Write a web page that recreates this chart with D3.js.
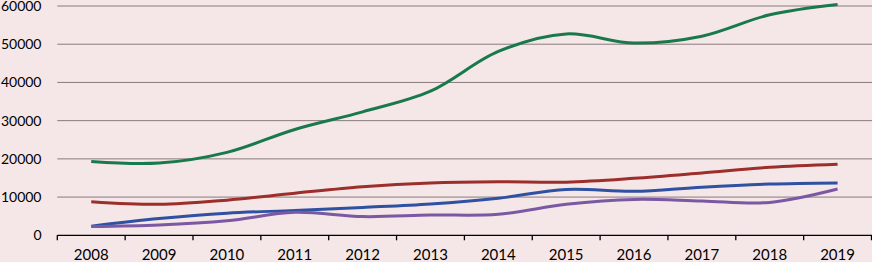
<!DOCTYPE html>
<html>
<head>
<meta charset="utf-8">
<script src="https://cdn.jsdelivr.net/npm/d3@7"></script>
<style>
  html, body { margin: 0; padding: 0; background: #f5e6e7; }
  svg { display: block; }
  text { font-family: Lato, "Open Sans", sans-serif; fill: #000; }
</style>
</head>
<body>
<div id="chart"></div>
<script>
// values
let years = ["2008", "2009", "2010", "2011", "2012", "2013",
             "2014", "2015", "2016", "2017", "2018", "2019"];
let greenValues  = [19300, 18900, 21700, 27700, 32300, 37700, 48100, 52700, 50300, 52100, 57700, 60400];
let redValues    = [8800, 8100, 9200, 11000, 12700, 13700, 14000, 13900, 14900, 16300, 17800, 18600];
let blueValues   = [2400, 4400, 5800, 6500, 7300, 8200, 9700, 12000, 11500, 12600, 13400, 13700];
let purpleValues = [2300, 2700, 3800, 6000, 4900, 5300, 5500, 8100, 9400, 9000, 8600, 12100];
let yTicks = [0, 10000, 20000, 30000, 40000, 50000, 60000];

let seriesList = [
  { values: greenValues,  color: "#18794a" },
  { values: redValues,    color: "#9c2f2b" },
  { values: blueValues,   color: "#2f51a1" },
  { values: purpleValues, color: "#7a58a4" }
];

let width = 872;
let height = 262;
let plotLeft = 57.3, plotRight = 871.5, plotTop = 6, plotBottom = 235.3;

let svg = d3.select("#chart")
  .append("svg")
  .attr("width", width).attr("height", height);

let xScale = d3.scaleBand()
  .domain(years)
  .range([plotLeft, plotRight]);

let yScale = d3.scaleLinear()
  .domain([0, 60000])
  .range([plotBottom, plotTop]);

// horizontal gridlines
svg.append("g")
  .selectAll("line")
  .data(yTicks.filter(function(t) { return t > 0; }))
  .enter()
  .append("line")
  .attr("x1", plotLeft).attr("x2", width)
  .attr("y1", function(d) { return yScale(d); })
  .attr("y2", function(d) { return yScale(d); })
  .attr("stroke", "#887b7c")
  .attr("stroke-width", 1);

// y labels
svg.append("g")
  .selectAll("text")
  .data(yTicks)
  .enter()
  .append("text")
  .attr("x", 41.5)
  .attr("y", function(d) { return yScale(d); })
  .attr("dy", "0.35em")
  .attr("text-anchor", "end")
  .style("font-size", "14px")
  .text(function(d) { return d; });

// x axis line and ticks
let xAxis = d3.axisBottom(xScale).tickSize(0);
let xg = svg.append("g")
  .attr("transform", "translate(0," + plotBottom + ")")
  .call(xAxis);
xg.select(".domain").attr("stroke", "#000").attr("stroke-width", 1.3)
  .attr("d", "M" + plotLeft + ",0H" + width);
xg.selectAll("text")
  .attr("y", 25)
  .attr("dy", 0)
  .style("font-size", "15px")
  .style("font-family", "Lato, 'Open Sans', sans-serif")
  .attr("fill", "#000");

let boundaries = years.map(function(y) { return xScale(y); }).concat([plotRight]);
xg.selectAll("line.sep")
  .data(boundaries)
  .enter()
  .append("line")
  .attr("class", "sep")
  .attr("x1", function(d) { return d; })
  .attr("x2", function(d) { return d; })
  .attr("y1", 0).attr("y2", 5)
  .attr("stroke", "#000")
  .attr("stroke-width", 1.3);

// lines
let line = d3.line()
  .x(function(d, i) { return xScale(years[i]) + xScale.bandwidth() / 2; })
  .y(function(d) { return yScale(d); })
  .curve(d3.curveCatmullRom.alpha(0.5));

svg.append("g")
  .selectAll("path")
  .data(seriesList)
  .enter()
  .append("path")
  .attr("d", function(s) { return line(s.values); })
  .attr("fill", "none")
  .attr("stroke", function(s) { return s.color; })
  .attr("stroke-width", 3)
  .attr("stroke-linecap", "butt");
</script>
</body>
</html>
